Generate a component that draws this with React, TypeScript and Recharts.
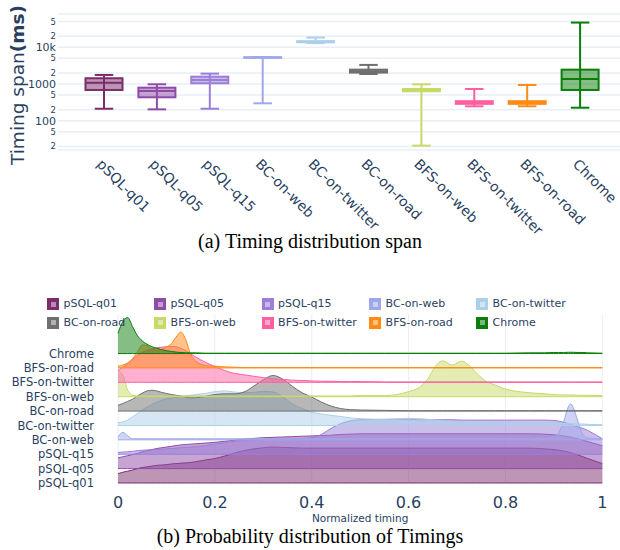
import React from "react";
import {
  ComposedChart,
  Bar,
  Scatter,
  Area,
  XAxis,
  YAxis,
  CartesianGrid,
  Cell,
  Label,
} from "recharts";

const FONT = "'DejaVu Sans', Verdana, sans-serif";
const INK = "#2a3f5f";
const GRID = "#e9eef7";

// series names and colours (legend / axis order)
const categories = [
  "pSQL-q01",
  "pSQL-q05",
  "pSQL-q15",
  "BC-on-web",
  "BC-on-twitter",
  "BC-on-road",
  "BFS-on-web",
  "BFS-on-twitter",
  "BFS-on-road",
  "Chrome",
];
const colors = [
  "#7b2c6b",
  "#8f4ba8",
  "#9a7ed8",
  "#9fa7eb",
  "#acd0ea",
  "#6f6f6f",
  "#c5da67",
  "#ff5fa2",
  "#ff8a14",
  "#0a7d0a",
];

// (a) box plot, ms
const whiskerLow = [212, 204, 212, 298, 12900, 1870, 21, 247, 247, 226];
const q1 = [687, 434, 1045, 5150, 13600, 2040, 633, 288, 288, 687];
const median = [1085, 645, 1285, 5250, 14000, 2230, 680, 315, 315, 1370];
const q3 = [1430, 793, 1580, 5350, 14600, 2450, 731, 340, 340, 2450];
const whiskerHigh = [1758, 980, 1910, 5400, 18300, 3300, 980, 731, 939, 46800];
const logTicks = [20, 50, 100, 200, 500, 1000, 2000, 5000, 10000, 20000, 50000];
const logTickLabels = ["2", "5", "100", "2", "5", "1000", "2", "5", "10k", "2", "5"];

// (b) ridge densities (normalised, peak = 1) on a shared x grid
const xs = [
  0, 0.01, 0.02, 0.03, 0.04, 0.05, 0.06, 0.07, 0.08, 0.09, 0.1, 0.11, 0.12, 0.13, 0.14, 0.15, 0.16,
  0.18, 0.2, 0.22, 0.24, 0.26, 0.28, 0.3, 0.32, 0.34, 0.36, 0.38, 0.4, 0.42, 0.44, 0.46, 0.48, 0.5,
  0.55, 0.6, 0.62, 0.64, 0.655, 0.67, 0.69, 0.71, 0.725, 0.74, 0.76, 0.78, 0.8,
  0.85, 0.88, 0.9, 0.91, 0.92, 0.93, 0.935, 0.94, 0.95, 0.96, 0.97, 1,
];
const densQ01 = [
  0.26, 0.3, 0.33, 0.36, 0.4, 0.43, 0.45, 0.47, 0.49, 0.5, 0.51, 0.53, 0.54, 0.55, 0.56, 0.57, 0.59,
  0.64, 0.68, 0.75, 0.83, 0.9, 0.95, 0.98, 1.0, 0.99, 0.98, 0.97, 0.97, 0.97, 0.97, 0.97, 0.97, 0.97,
  0.97, 0.97, 0.97, 0.97, 0.97, 0.97, 0.97, 0.97, 0.97, 0.97, 0.97, 0.97, 0.97,
  0.97, 0.95, 0.93, 0.91, 0.89, 0.86, 0.84, 0.82, 0.78, 0.73, 0.68, 0.54,
];
const densQ05 = [
  0.3, 0.33, 0.36, 0.39, 0.42, 0.47, 0.5, 0.53, 0.56, 0.58, 0.6, 0.62, 0.64, 0.66, 0.67, 0.68, 0.69,
  0.71, 0.73, 0.76, 0.79, 0.82, 0.84, 0.86, 0.87, 0.88, 0.89, 0.9, 0.91, 0.92, 0.93, 0.95, 0.96, 0.97,
  0.97, 0.97, 0.97, 0.97, 0.97, 0.97, 0.97, 0.97, 0.97, 0.97, 0.97, 0.97, 0.97,
  0.97, 0.96, 0.94, 0.93, 0.91, 0.89, 0.88, 0.86, 0.83, 0.79, 0.75, 0.64,
];
const densQ15 = [
  0.05, 0.06, 0.07, 0.08, 0.1, 0.11, 0.12, 0.12, 0.13, 0.14, 0.15, 0.16, 0.17, 0.18, 0.19, 0.2, 0.21,
  0.24, 0.28, 0.32, 0.36, 0.38, 0.4, 0.41, 0.42, 0.42, 0.43, 0.44, 0.46, 0.55, 0.72, 0.85, 0.93, 0.96,
  0.97, 0.97, 0.96, 0.96, 0.96, 0.96, 0.96, 0.95, 0.95, 0.95, 0.95, 0.95, 0.95,
  0.95, 0.95, 0.94, 0.92, 0.89, 0.85, 0.83, 0.8, 0.76, 0.72, 0.66, 0.43,
];
const densBCweb = [
  0.08, 0.21, 0.11, 0.03, 0.03, 0.03, 0.03, 0.03, 0.03, 0.03, 0.03, 0.03, 0.03, 0.03, 0.03, 0.03, 0.03,
  0.03, 0.03, 0.03, 0.03, 0.03, 0.03, 0.03, 0.03, 0.03, 0.03, 0.03, 0.03, 0.03, 0.03, 0.03, 0.03, 0.03,
  0.03, 0.03, 0.03, 0.03, 0.03, 0.03, 0.03, 0.03, 0.03, 0.03, 0.03, 0.03, 0.03,
  0.03, 0.04, 0.07, 0.2, 0.5, 0.92, 1.0, 0.9, 0.5, 0.15, 0.05, 0.03,
];
const densBCtwitter = [
  0.08, 0.1, 0.15, 0.24, 0.33, 0.43, 0.51, 0.58, 0.65, 0.7, 0.74, 0.76, 0.79, 0.81, 0.83, 0.84, 0.86,
  0.89, 0.94, 0.96, 0.93, 0.91, 0.92, 0.95, 0.93, 0.8, 0.6, 0.47, 0.37, 0.32, 0.28, 0.25, 0.21, 0.19,
  0.17, 0.2, 0.19, 0.17, 0.15, 0.13, 0.11, 0.09, 0.08, 0.08, 0.08, 0.07, 0.06,
  0.05, 0.05, 0.05, 0.05, 0.05, 0.05, 0.05, 0.05, 0.04, 0.04, 0.03, 0.02,
];
const densBCroad = [
  0.16, 0.21, 0.27, 0.33, 0.42, 0.5, 0.56, 0.58, 0.56, 0.52, 0.49, 0.46, 0.44, 0.42, 0.39, 0.37, 0.37,
  0.41, 0.46, 0.48, 0.48, 0.53, 0.69, 0.87, 0.99, 0.89, 0.69, 0.51, 0.39, 0.25, 0.14, 0.07, 0.04, 0.03,
  0.02, 0.01, 0.01, 0.01, 0.01, 0.01, 0.01, 0.01, 0.01, 0.01, 0.01, 0.01, 0.01,
  0.01, 0.01, 0.01, 0.01, 0.01, 0.01, 0.01, 0.01, 0.01, 0.01, 0.01, 0.01,
];
const densBFSweb = [
  0.72, 0.6, 0.18, 0.04, 0.02, 0.02, 0.02, 0.02, 0.02, 0.02, 0.02, 0.02, 0.02, 0.02, 0.02, 0.02, 0.02,
  0.02, 0.02, 0.02, 0.02, 0.02, 0.02, 0.02, 0.02, 0.02, 0.02, 0.02, 0.02, 0.02, 0.02, 0.02, 0.02, 0.03,
  0.03, 0.14, 0.24, 0.5, 0.84, 1.0, 0.88, 0.99, 0.87, 0.66, 0.43, 0.32, 0.21,
  0.11, 0.08, 0.06, 0.05, 0.05, 0.05, 0.05, 0.05, 0.04, 0.04, 0.04, 0.03,
];
const densBFStwitter = [
  0.33, 0.42, 0.53, 0.64, 0.75, 0.83, 0.89, 0.93, 0.96, 0.98, 0.99, 1.0, 0.99, 0.94, 0.88, 0.79, 0.71,
  0.56, 0.44, 0.33, 0.25, 0.21, 0.17, 0.13, 0.1, 0.08, 0.06, 0.05, 0.04, 0.03, 0.03, 0.02, 0.02, 0.02,
  0.01, 0.01, 0.01, 0.01, 0.01, 0.01, 0.01, 0.01, 0.01, 0.01, 0.01, 0.01, 0.01,
  0.01, 0.01, 0.01, 0.01, 0.01, 0.01, 0.01, 0.01, 0.01, 0.01, 0.01, 0.01,
];
const densBFSroad = [
  0.05, 0.08, 0.14, 0.25, 0.44, 0.64, 0.62, 0.52, 0.49, 0.52, 0.58, 0.67, 0.86, 1.0, 0.78, 0.38, 0.2,
  0.07, 0.05, 0.03, 0.02, 0.01, 0.01, 0.01, 0.01, 0.01, 0.01, 0.01, 0.01, 0.01, 0.01, 0.01, 0.01, 0.01,
  0.01, 0.01, 0.01, 0.01, 0.01, 0.01, 0.01, 0.01, 0.01, 0.01, 0.01, 0.01, 0.01,
  0.01, 0.01, 0.01, 0.01, 0.01, 0.01, 0.01, 0.01, 0.01, 0.01, 0.01, 0.01,
];
const densChrome = [
  0.56, 0.89, 1.0, 0.75, 0.5, 0.35, 0.26, 0.19, 0.15, 0.11, 0.08, 0.06, 0.04, 0.03, 0.02, 0.02, 0.02,
  0.01, 0.01, 0.01, 0.01, 0.01, 0.01, 0.01, 0.01, 0.01, 0.01, 0.01, 0.01, 0.01, 0.01, 0.01, 0.01, 0.01,
  0.01, 0.01, 0.01, 0.01, 0.01, 0.01, 0.01, 0.01, 0.01, 0.01, 0.01, 0.01, 0.01,
  0.02, 0.02, 0.03, 0.03, 0.03, 0.035, 0.035, 0.035, 0.03, 0.03, 0.02, 0.01,
];
const densities = [
  densQ01, densQ05, densQ15, densBCweb, densBCtwitter,
  densBCroad, densBFSweb, densBFStwitter, densBFSroad, densChrome,
];
const RIDGE_HEIGHT = 2.5; // peak height in rows

const boxRows = categories.map((name, i) => ({
  name,
  whisker: [whiskerLow[i], whiskerHigh[i]],
  box: [q1[i], q3[i]],
  median: median[i],
}));

const ridgeRows = xs.map((x, j) => {
  const row: any = { x };
  categories.forEach((c, i) => {
    row[c] = [i, i + densities[i][j] * RIDGE_HEIGHT];
  });
  return row;
});

const Whisker = (props: any) => {
  const { x, y, width, height, fill } = props;
  const cx = x + width / 2;
  const cap = width / 4;
  return (
    <g stroke={fill} strokeWidth={2}>
      <line x1={cx} x2={cx} y1={y} y2={y + height} />
      <line x1={cx - cap} x2={cx + cap} y1={y} y2={y} />
      <line x1={cx - cap} x2={cx + cap} y1={y + height} y2={y + height} />
    </g>
  );
};

const BoxShape = (props: any) => {
  const { x, y, width, height, fill } = props;
  return (
    <rect x={x} y={y} width={width} height={Math.max(height, 0.5)} fill={fill}
      fillOpacity={0.5} stroke={fill} strokeWidth={2} />
  );
};

const MedianShape = (props: any) => {
  const { cx, cy, fill } = props;
  return <line x1={cx - 18.5} x2={cx + 18.5} y1={cy} y2={cy} stroke={fill} strokeWidth={2} />;
};

const LogTick = (props: any) => {
  const { x, y, payload } = props;
  const i = logTicks.indexOf(payload.value);
  const major = [100, 1000, 10000].includes(payload.value);
  return (
    <text x={x} y={y} dy="0.36em" textAnchor="end" fill={INK} fontFamily={FONT}
      fontSize={major ? 11 : 8.5}>
      {logTickLabels[i]}
    </text>
  );
};

const CatTick = (props: any) => {
  const { x, y, payload } = props;
  const tx = x - 8;
  const ty = y + 15;
  return (
    <text x={tx} y={ty} transform={`rotate(45 ${tx} ${ty})`} fill={INK}
      fontFamily={FONT} fontSize={14}>
      {payload.value}
    </text>
  );
};

const YTitle = (props: any) => {
  const { viewBox } = props;
  const cy = viewBox.y + viewBox.height / 2 + 3;
  return (
    <text x={23.5} y={cy} transform={`rotate(-90 23.5 ${cy})`} textAnchor="middle"
      fill={INK} fontFamily={FONT} fontSize={18.5}>
      Timing span<tspan fontWeight="bold">(ms)</tspan>
    </text>
  );
};

const RowTick = (props: any) => {
  const { x, y, payload } = props;
  return (
    <text x={x} y={y} dy="0.36em" textAnchor="end" fill={INK} fontFamily={FONT} fontSize={11.5}>
      {categories[payload.value]}
    </text>
  );
};

const NumTick = (props: any) => {
  const { x, y, payload } = props;
  return (
    <text x={x} y={y + 24.5} textAnchor="middle" fill={INK} fontFamily={FONT} fontSize={16}>
      {String(payload.value)}
    </text>
  );
};

const XTitle = (props: any) => {
  const { viewBox } = props;
  return (
    <text x={viewBox.x + viewBox.width / 2} y={viewBox.y + 39} textAnchor="middle"
      fill={INK} fontFamily={FONT} fontSize={10.5}>
      Normalized timing
    </text>
  );
};

const legendCols = [47, 154, 261.5, 369, 476];
const legendRows = [298, 316.5];

export default function App() {
  return (
    <div style={{ position: "absolute", left: 0, top: 0, width: 620, height: 550, background: "#fff" }}>
      <div style={{ position: "absolute", left: 0, top: 0 }}>
        <ComposedChart width={620} height={250} data={boxRows} barSize={37} barGap={-37}
          margin={{ top: 14, right: 0, bottom: 0, left: 0 }} style={{ overflow: "visible" }}>
          <CartesianGrid vertical={false} stroke={GRID} strokeWidth={1.5} />
          <XAxis dataKey="name" type="category" interval={0} height={100} tickLine={false}
            axisLine={false} tickSize={0} tickMargin={0} padding={{ left: 19.5, right: 13.5 }}
            tick={<CatTick />} />
          <YAxis type="number" scale="log" domain={[16, 80000]} allowDataOverflow ticks={logTicks}
            interval={0} width={58} tickLine={false} axisLine={false} tickSize={0} tickMargin={2}
            tick={<LogTick />}>
            <Label content={<YTitle />} />
          </YAxis>
          <Bar dataKey="whisker" isAnimationActive={false} shape={<Whisker />}>
            {categories.map((c, i) => <Cell key={c} fill={colors[i]} />)}
          </Bar>
          <Bar dataKey="box" isAnimationActive={false} shape={<BoxShape />}>
            {categories.map((c, i) => <Cell key={c} fill={colors[i]} />)}
          </Bar>
          <Scatter dataKey="median" isAnimationActive={false} shape={<MedianShape />}>
            {categories.map((c, i) => <Cell key={c} fill={colors[i]} />)}
          </Scatter>
        </ComposedChart>
      </div>

      <div style={{ position: "absolute", left: 0, width: 620, top: 230, textAlign: "center",
        fontFamily: "'Liberation Serif', 'Times New Roman', serif", fontSize: 20, color: "#000" }}>
        (a) Timing distribution span
      </div>

      <div style={{ position: "absolute", left: 0, top: 260 }}>
        <ComposedChart width={620} height={290} data={ridgeRows}
          margin={{ top: 54, right: 17.7, bottom: 0, left: 0 }}>
          <CartesianGrid horizontal={false} stroke={GRID} />
          <XAxis dataKey="x" type="number" domain={[0, 1]} ticks={[0, 0.2, 0.4, 0.6, 0.8, 1]}
            interval={0} height={67} tickLine={false} axisLine={false} tickSize={0} tickMargin={0}
            tick={<NumTick />}>
            <Label content={<XTitle />} />
          </XAxis>
          <YAxis type="number" domain={[0, 11.75]} ticks={[0, 1, 2, 3, 4, 5, 6, 7, 8, 9]}
            interval={0} width={118} tickLine={false} axisLine={false} tickSize={0} tickMargin={24}
            tick={<RowTick />} />
          {categories.map((c, i) => (
            <Area key={c} dataKey={c} type="monotone" stroke={colors[i]} strokeWidth={1}
              fill={colors[i]} fillOpacity={0.5} dot={false} activeDot={false}
              isAnimationActive={false} />
          ))}
        </ComposedChart>
      </div>

      {categories.map((c, i) => (
        <div key={c} style={{ position: "absolute", left: legendCols[i % 5],
          top: legendRows[Math.floor(i / 5)], display: "flex", alignItems: "center",
          fontFamily: FONT, fontSize: 11, color: INK, lineHeight: "12px", whiteSpace: "nowrap" }}>
          <div style={{ width: 12, height: 12, background: colors[i], position: "relative", marginRight: 4.6 }}>
            <div style={{ position: "absolute", left: 3.5, top: 3.5, width: 5, height: 5,
              background: "rgba(255,255,255,0.45)" }} />
          </div>
          <span>{c}</span>
        </div>
      ))}

      <div style={{ position: "absolute", left: 0, width: 620, top: 525, textAlign: "center",
        fontFamily: "'Liberation Serif', 'Times New Roman', serif", fontSize: 20, color: "#000" }}>
        (b) Probability distribution of Timings
      </div>
    </div>
  );
}
